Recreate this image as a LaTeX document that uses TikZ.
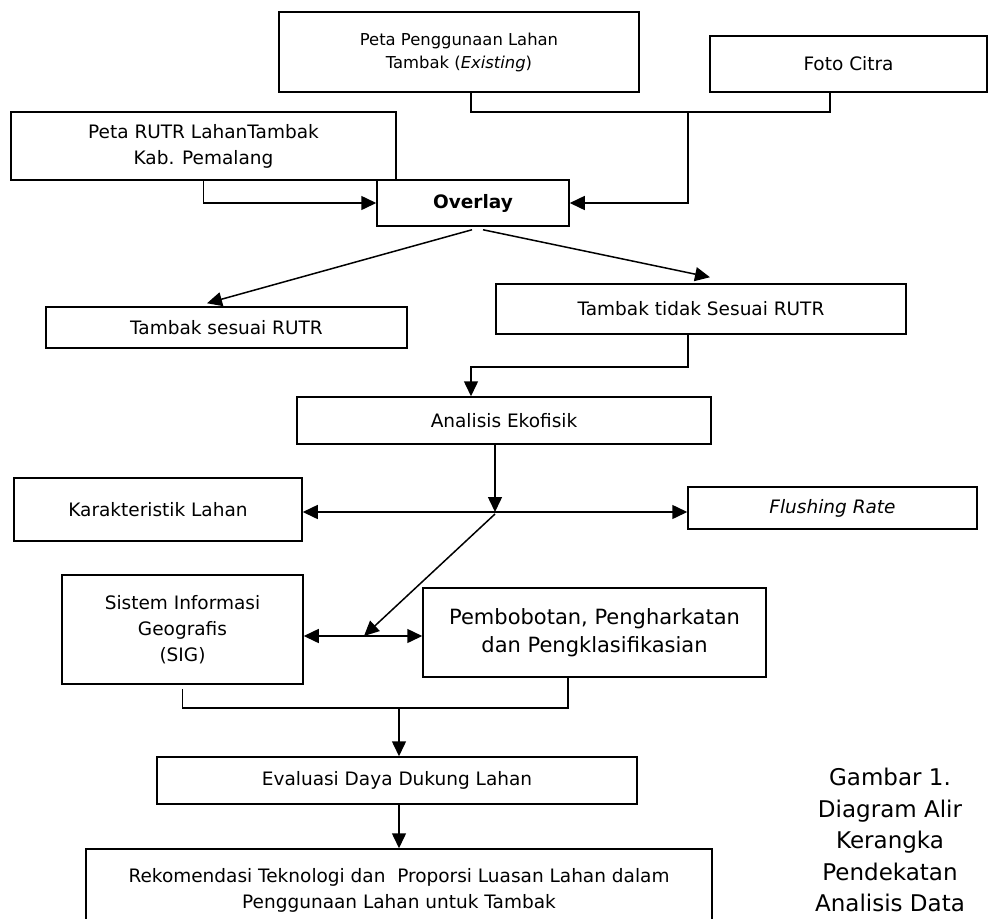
\documentclass[tikz,border=0pt]{standalone}
\usepackage{fontspec}
\setmainfont{DejaVu Sans}
\usepackage{tikz}
\usetikzlibrary{arrows.meta,positioning}

\tikzset{
    box/.style={draw, rectangle, line width=1.5pt, align=center, inner sep=0pt,
        font=\fontsize{18.5}{26}\selectfont},
    flow/.style={line width=1.5pt, -{Triangle[length=15pt,width=14pt]}},
    link/.style={line width=1.5pt},
    caption/.style={align=center, inner sep=0pt, anchor=north,
        font=\fontsize{23}{31.5}\selectfont}
}

\begin{document}
\begin{tikzpicture}[x=1pt, y=-1pt]
            \useasboundingbox (0,0) rectangle (989,919);

            % Input maps
            \node[box, minimum width=360, minimum height=80, font=\fontsize{16.4}{23}\selectfont] (penggunaan) at (459,52) {Peta Penggunaan Lahan\\Tambak (\textit{Existing})};
            \node[box, minimum width=277, minimum height=56] (foto) at (848.5,64) {Foto Citra};
            \node[box, minimum width=385, minimum height=68] (rutr) at (203.5,146) {Peta RUTR LahanTambak\\Kab. Pemalang};
            \node[box, minimum width=192, minimum height=46, font=\fontsize{18.5}{26}\selectfont\bfseries] (overlay) at (473,203) {Overlay};

            % Overlay results
            \node[box, minimum width=361, minimum height=41] (sesuai) at (226.5,327.5) {Tambak sesuai RUTR};
            \node[box, minimum width=410, minimum height=50] (tidak) at (701,309) {Tambak tidak Sesuai RUTR};
            \node[box, minimum width=414, minimum height=47] (analisis) at (504,420.5) {Analisis Ekofisik};
            \node[box, minimum width=288, minimum height=63] (karakter) at (158,509.5) {Karakteristik Lahan};
            \node[box, minimum width=289, minimum height=42] (flushing) at (832.5,508) {\textit{Flushing Rate}};

            % Evaluation
            \node[box, minimum width=241, minimum height=109] (sig) at (182.5,629.5) {Sistem Informasi\\Geografis\\(SIG)};
            \node[box, minimum width=343, minimum height=89, font=\fontsize{21}{28}\selectfont] (pembobotan) at (594.5,632.5) {Pembobotan, Pengharkatan\\dan Pengklasifikasian};
            \node[box, minimum width=480, minimum height=47] (evaluasi) at (397,780.5) {Evaluasi Daya Dukung Lahan};
            \node[box, minimum width=626, minimum height=82] (rekomendasi) at (399,890) {Rekomendasi Teknologi dan\ \ Proporsi Luasan Lahan dalam\\Penggunaan Lahan untuk Tambak};

            \node[caption] (gambar) at (890,768) {Gambar 1.\\Diagram Alir\\Kerangka\\Pendekatan\\Analisis Data};

            % Junction points
            \coordinate (topjoin) at (688,112);
            \coordinate (hub) at (495,512);
            \coordinate (midjoin) at (364,636);
            \coordinate (lowjoin) at (399,708);

            % Arrows
            \draw[link] ([xshift=12]penggunaan.south) |- (topjoin) -| ([xshift=-18.5]foto.south);
            \draw[flow] (topjoin) |- (overlay.east);
            \draw[flow] (rutr.south) |- (overlay.west);
            \draw[flow] ([xshift=-1,yshift=-3]overlay.south) -- ([xshift=-19.5,yshift=3]sesuai.north);
            \draw[flow] ([xshift=10,yshift=-3]overlay.south) -- ([xshift=9,yshift=6]tidak.north);
            \draw[flow] ([xshift=-13]tidak.south) -- ++(0,32) -| ([xshift=-33]analisis.north);
            \draw[flow] ([xshift=-9]analisis.south) -- (hub);
            \draw[flow] (hub) -- (karakter.east |- hub);
            \draw[flow] (hub) -- (flushing.west |- hub);
            \draw[flow] ([yshift=-2]hub) -- (midjoin);
            \draw[flow] (midjoin) -- (sig.east |- midjoin);
            \draw[flow] (midjoin) -- (pembobotan.west |- midjoin);
            \draw[link] ([yshift=-4]sig.south) |- (lowjoin) -| ([xshift=-26.5]pembobotan.south);
            \draw[flow] (lowjoin) -- (lowjoin |- evaluasi.north);
            \draw[flow] (lowjoin |- evaluasi.south) -- (lowjoin |- rekomendasi.north);
        \end{tikzpicture}
\end{document}
